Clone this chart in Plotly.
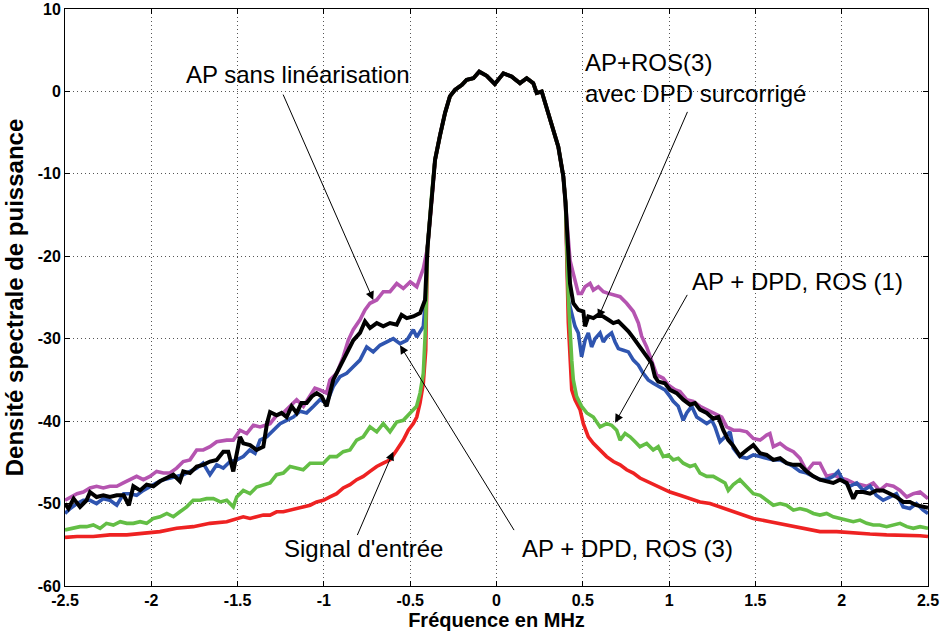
import plotly.graph_objects as go

# ---------------- data ----------------
band_x = [-0.40, -0.375, -0.356, -0.327, -0.298, -0.27, -0.24, -0.20, -0.173, -0.134, -0.10, -0.057, -0.01,
          0.04, 0.088, 0.136, 0.175, 0.213, 0.233, 0.262, 0.29, 0.33, 0.358, 0.387, 0.40]
band_y = [-19.0, -12.4, -8.3, -5.3, -2.6, -0.6, 0.2, 0.8, 1.4, 1.6, 2.4, 1.9, 0.9,
          2.2, 1.8, 1.0, 1.6, 1.0, -0.2, 0.0, -1.85, -4.7, -6.7, -10.3, -13.5]

mag_left_x = [-2.5, -2.48, -2.43, -2.394, -2.355, -2.317, -2.278, -2.24, -2.2, -2.162, -2.124, -2.085, -2.046,
              -2.008, -1.969, -1.93, -1.892, -1.853, -1.815, -1.776, -1.737, -1.699, -1.66, -1.621, -1.563,
              -1.525, -1.486, -1.447, -1.409, -1.37, -1.312, -1.274, -1.235, -1.196, -1.158, -1.119, -1.08,
              -1.052, -1.023, -0.984, -0.965, -0.926, -0.888, -0.859, -0.83, -0.791, -0.762, -0.733, -0.694,
              -0.656, -0.617, -0.578, -0.54, -0.50, -0.462, -0.424]
mag_left_y = [-49.6, -49.4, -48.8, -48.6, -48.1, -47.9, -48.1, -47.9, -47.9, -47.5, -47.1, -46.7, -47.1,
              -46.7, -46.1, -46.3, -46.3, -45.7, -44.9, -44.7, -43.5, -43.5, -43.1, -42.5, -42.3,
              -42.3, -41.1, -41.5, -40.5, -40.7, -40.3, -39.3, -39.0, -38.2, -37.4, -38.2, -37.0,
              -36.0, -36.2, -36.6, -35.0, -34.2, -32.2, -30.2, -28.9, -27.7, -26.5, -25.7, -25.3,
              -24.3, -24.3, -23.3, -23.9, -23.1, -23.7, -21.5]
mag_right_x = [0.426, 0.445, 0.474, 0.493, 0.513, 0.542, 0.561, 0.59, 0.619, 0.648, 0.677, 0.716, 0.754,
               0.793, 0.822, 0.841, 0.87, 0.899, 0.928, 0.966, 0.995, 1.034, 1.063, 1.102, 1.14, 1.179,
               1.218, 1.256, 1.305, 1.334, 1.372, 1.41, 1.45, 1.488, 1.527, 1.565, 1.584, 1.604, 1.643,
               1.681, 1.72, 1.758, 1.797, 1.836, 1.874, 1.893, 1.913, 1.951, 1.99, 2.029, 2.067, 2.106,
               2.145, 2.183, 2.22, 2.26, 2.3, 2.338, 2.377, 2.415, 2.454, 2.5]
mag_right_y = [-20.5, -22.1, -24.5, -24.5, -23.7, -23.3, -24.1, -23.7, -24.3, -24.5, -24.7, -24.9, -25.7,
               -26.7, -28.1, -29.7, -31.0, -32.6, -34.4, -34.8, -35.6, -36.2, -36.4, -37.4, -37.6, -38.2,
               -38.6, -39.0, -39.5, -40.7, -41.1, -41.1, -41.3, -42.1, -42.3, -41.7, -41.5, -43.1, -42.7,
               -43.3, -43.7, -44.5, -46.1, -45.1, -45.1, -45.9, -46.7, -46.5, -46.9, -47.1, -47.5, -47.7,
               -47.9, -47.5, -48.4, -47.7, -47.9, -48.4, -49.2, -48.8, -48.6, -49.4]

blue_left_x = [-2.5, -2.47, -2.43, -2.394, -2.355, -2.317, -2.278, -2.24, -2.2, -2.16, -2.124, -2.085, -2.046,
               -2.008, -1.969, -1.93, -1.892, -1.853, -1.815, -1.776, -1.737, -1.7, -1.66, -1.621, -1.583,
               -1.544, -1.505, -1.467, -1.43, -1.399, -1.37, -1.331, -1.293, -1.254, -1.216, -1.177, -1.138,
               -1.1, -1.06, -1.023, -0.984, -0.946, -0.907, -0.868, -0.83, -0.791, -0.752, -0.714, -0.675,
               -0.636, -0.598, -0.559, -0.52, -0.482, -0.462, -0.424, -0.41]
blue_left_y = [-51.2, -50.6, -50.0, -49.6, -49.6, -50.0, -49.4, -49.6, -50.2, -48.8, -48.8, -49.0, -48.4,
               -47.9, -47.5, -47.1, -46.9, -46.7, -46.5, -46.1, -45.7, -45.1, -46.5, -45.3, -45.7,
               -44.9, -44.7, -44.3, -43.5, -43.9, -42.3, -41.9, -41.1, -40.3, -39.9, -39.5, -38.8,
               -39.0, -38.2, -37.4, -37.8, -35.8, -34.6, -34.2, -33.4, -32.6, -31.0, -31.6, -30.8,
               -30.4, -30.0, -30.6, -30.2, -28.9, -29.8, -28.5, -25.0]
blue_right_x = [0.416, 0.436, 0.455, 0.474, 0.493, 0.513, 0.532, 0.551, 0.571, 0.6, 0.619, 0.638, 0.667,
                0.687, 0.706, 0.735, 0.764, 0.793, 0.822, 0.85, 0.879, 0.908, 0.947, 0.976, 1.005, 1.024,
                1.053, 1.082, 1.102, 1.131, 1.16, 1.189, 1.218, 1.247, 1.266, 1.295, 1.324, 1.353, 1.372,
                1.41, 1.45, 1.488, 1.527, 1.565, 1.604, 1.643, 1.681, 1.72, 1.758, 1.797, 1.836, 1.874,
                1.913, 1.951, 1.98, 2.01, 2.048, 2.087, 2.125, 2.164, 2.2, 2.24, 2.28, 2.317, 2.356,
                2.395, 2.433, 2.472, 2.5]
blue_right_y = [-25.3, -26.9, -28.5, -29.3, -32.2, -30.2, -29.3, -31.0, -30.0, -29.3, -30.4, -29.8, -29.3,
                -30.4, -31.2, -31.4, -31.6, -32.6, -33.2, -34.2, -35.0, -35.4, -35.8, -36.2, -37.0, -37.6,
                -38.2, -39.9, -39.0, -38.2, -39.5, -39.9, -40.3, -39.9, -40.7, -42.5, -41.9, -41.3, -43.3,
                -44.3, -44.5, -44.1, -44.3, -44.5, -44.7, -44.7, -45.1, -45.5, -46.1, -46.3, -46.7, -47.1,
                -47.1, -46.7, -46.1, -47.3, -47.9, -47.5, -48.4, -47.9, -49.0, -49.6, -49.2, -48.8, -50.4,
                -50.6, -50.0, -50.8, -51.2]

black_left_x = [-2.5, -2.48, -2.45, -2.413, -2.375, -2.355, -2.317, -2.278, -2.24, -2.2, -2.16, -2.13, -2.104,
                -2.065, -2.027, -1.988, -1.95, -1.91, -1.872, -1.834, -1.815, -1.776, -1.737, -1.7, -1.66,
                -1.621, -1.583, -1.554, -1.525, -1.486, -1.467, -1.428, -1.39, -1.351, -1.33, -1.312, -1.274,
                -1.245, -1.216, -1.187, -1.158, -1.13, -1.1, -1.07, -1.042, -1.013, -0.984, -0.946, -0.907,
                -0.868, -0.83, -0.791, -0.762, -0.733, -0.694, -0.656, -0.617, -0.578, -0.55, -0.52, -0.482,
                -0.443, -0.414]
black_left_y = [-50.0, -50.6, -49.4, -50.4, -49.6, -48.6, -49.2, -49.0, -49.2, -49.0, -49.0, -50.2, -47.9,
                -48.4, -47.7, -47.9, -47.3, -46.9, -46.5, -47.3, -46.1, -46.3, -45.5, -45.3, -44.9,
                -44.7, -43.7, -43.7, -46.1, -41.9, -42.7, -42.9, -43.5, -43.1, -40.3, -38.9, -39.3,
                -39.0, -39.5, -38.2, -39.0, -37.8, -37.8, -37.0, -36.6, -37.0, -38.2, -35.0, -33.4,
                -31.8, -30.2, -29.3, -27.9, -28.7, -28.1, -28.5, -28.1, -28.3, -27.1, -27.5, -27.3,
                -26.9, -25.3]
black_right_x = [0.412, 0.426, 0.445, 0.474, 0.503, 0.513, 0.532, 0.561, 0.59, 0.619, 0.648, 0.677, 0.706,
                 0.735, 0.764, 0.793, 0.831, 0.87, 0.899, 0.918, 0.937, 0.976, 1.005, 1.044, 1.082, 1.121,
                 1.15, 1.179, 1.218, 1.256, 1.285, 1.314, 1.343, 1.372, 1.41, 1.45, 1.488, 1.527, 1.565,
                 1.604, 1.643, 1.681, 1.72, 1.758, 1.797, 1.836, 1.874, 1.913, 1.951, 1.99, 2.029, 2.067,
                 2.087, 2.125, 2.164, 2.2, 2.24, 2.28, 2.317, 2.356, 2.395, 2.433, 2.472, 2.5]
black_right_y = [-18.0, -23.3, -25.7, -26.5, -26.7, -28.5, -27.3, -27.5, -27.1, -27.3, -27.7, -28.1, -27.9,
                 -28.5, -29.1, -29.9, -31.0, -32.2, -33.0, -34.6, -35.2, -35.4, -36.2, -36.6, -37.4, -38.0,
                 -37.8, -38.6, -39.0, -39.7, -39.5, -41.1, -42.3, -43.0, -44.2, -43.5, -42.9, -43.9, -44.1,
                 -44.7, -44.5, -45.1, -45.3, -45.3, -46.1, -46.7, -47.1, -47.3, -47.5, -47.1, -47.5, -49.4,
                 -48.6, -48.6, -48.8, -48.4, -48.4, -48.8, -49.2, -49.8, -49.8, -50.2, -50.4, -50.5]

green_left_x = [-2.5, -2.45, -2.413, -2.375, -2.336, -2.297, -2.26, -2.22, -2.18, -2.142, -2.104, -2.065, -2.027,
                -1.988, -1.95, -1.91, -1.872, -1.834, -1.795, -1.757, -1.718, -1.679, -1.64, -1.60, -1.563,
                -1.525, -1.505, -1.467, -1.428, -1.39, -1.351, -1.312, -1.274, -1.235, -1.196, -1.158, -1.12,
                -1.08, -1.042, -1.003, -0.965, -0.926, -0.888, -0.849, -0.81, -0.772, -0.733, -0.694, -0.656,
                -0.617, -0.578, -0.54, -0.50, -0.463, -0.443, -0.424, -0.41]
green_left_y = [-53.2, -53.0, -52.8, -52.8, -52.6, -53.0, -52.4, -52.6, -52.2, -52.4, -52.4, -52.2, -52.4,
                -51.8, -51.6, -51.2, -51.6, -51.0, -50.4, -49.6, -49.6, -49.4, -49.4, -49.8, -49.6,
                -50.4, -49.2, -48.4, -48.8, -48.0, -47.7, -47.5, -46.5, -46.3, -45.5, -45.7, -45.9,
                -45.1, -45.1, -45.1, -44.3, -44.3, -43.7, -43.5, -42.3, -41.9, -40.7, -41.3, -40.3,
                -41.3, -40.1, -39.9, -39.0, -38.2, -36.6, -34.2, -28.1]
green_right_x = [0.416, 0.426, 0.436, 0.445, 0.464, 0.493, 0.523, 0.561, 0.6, 0.638, 0.667, 0.696, 0.716,
                 0.745, 0.774, 0.803, 0.831, 0.87, 0.908, 0.937, 0.966, 0.995, 1.024, 1.053, 1.082, 1.121,
                 1.15, 1.179, 1.218, 1.256, 1.295, 1.324, 1.343, 1.372, 1.41, 1.45, 1.488, 1.527, 1.565,
                 1.604, 1.643, 1.681, 1.72, 1.758, 1.797, 1.836, 1.874, 1.913, 1.951, 1.99, 2.029, 2.067,
                 2.106, 2.145, 2.183, 2.22, 2.26, 2.3, 2.338, 2.377, 2.415, 2.454, 2.5]
green_right_y = [-25.0, -29.8, -32.6, -35.0, -37.0, -38.2, -39.0, -39.5, -40.7, -40.3, -40.5, -41.1, -42.3,
                 -41.5, -41.9, -42.5, -43.1, -42.7, -43.5, -43.1, -44.3, -44.1, -44.7, -44.5, -45.1, -45.5,
                 -45.3, -46.3, -46.7, -46.7, -47.1, -47.5, -48.4, -47.7, -47.1, -47.9, -48.8, -49.0, -49.6,
                 -50.2, -50.0, -50.2, -50.8, -50.6, -50.8, -51.2, -51.4, -51.2, -51.6, -51.8, -52.0, -52.2,
                 -52.0, -52.4, -52.6, -52.6, -52.8, -52.6, -52.4, -52.8, -53.0, -52.8, -53.0]

red_left_x = [-2.5, -2.43, -2.336, -2.24, -2.142, -2.046, -1.95, -1.853, -1.757, -1.66, -1.563, -1.467, -1.428,
              -1.39, -1.351, -1.312, -1.274, -1.235, -1.196, -1.158, -1.12, -1.08, -1.042, -1.003, -0.965,
              -0.926, -0.888, -0.849, -0.81, -0.772, -0.733, -0.694, -0.656, -0.617, -0.578, -0.54, -0.511,
              -0.482, -0.462, -0.443, -0.424, -0.41]
red_left_y = [-54.1, -54.0, -54.0, -53.8, -53.8, -53.6, -53.4, -53.0, -52.8, -52.4, -52.2, -51.6, -51.8,
              -51.6, -51.4, -51.4, -51.0, -51.0, -50.8, -50.6, -50.4, -50.2, -49.8, -49.6, -49.2,
              -48.8, -48.1, -47.7, -47.1, -46.7, -46.1, -45.5, -45.1, -44.7, -43.5, -42.3, -41.1,
              -40.3, -39.5, -37.8, -35.4, -31.4]
red_right_x = [0.416, 0.436, 0.455, 0.484, 0.503, 0.532, 0.561, 0.6, 0.638, 0.677, 0.716, 0.754, 0.793,
               0.831, 0.889, 0.947, 1.005, 1.063, 1.121, 1.179, 1.237, 1.295, 1.353, 1.41, 1.488, 1.585,
               1.681, 1.778, 1.874, 1.971, 2.067, 2.164, 2.26, 2.356, 2.454, 2.5]
red_right_y = [-28.0, -36.2, -37.4, -38.6, -40.3, -41.9, -42.7, -43.5, -44.3, -44.9, -45.3, -45.9, -46.3,
               -46.9, -47.5, -48.1, -48.6, -49.0, -49.4, -49.8, -50.0, -50.4, -50.8, -51.2, -51.8, -52.2,
               -52.6, -53.0, -53.4, -53.4, -53.6, -53.7, -53.8, -53.8, -53.9, -54.0]

x_tick_vals = [-2.5, -2, -1.5, -1, -0.5, 0, 0.5, 1, 1.5, 2, 2.5]
x_tick_text = ["-2.5", "-2", "-1.5", "-1", "-0.5", "0", "0.5", "1", "1.5", "2", "2.5"]
y_tick_vals = [-60, -50, -40, -30, -20, -10, 0, 10]
y_tick_text = ["-60", "-50", "-40", "-30", "-20", "-10", "0", "10"]

# ---------------- figure ----------------
FONT = "Liberation Sans, Arial, Helvetica, sans-serif"

series = [
    ("AP sans linéarisation", mag_left_x, mag_left_y, mag_right_x, mag_right_y, "#B554B0", 3.6),
    ("AP + DPD, ROS (3)", blue_left_x, blue_left_y, blue_right_x, blue_right_y, "#2F55B0", 3.6),
    ("Signal d'entrée", red_left_x, red_left_y, red_right_x, red_right_y, "#EE2222", 3.6),
    ("AP + DPD, ROS (1)", green_left_x, green_left_y, green_right_x, green_right_y, "#63BE45", 3.6),
    ("AP+ROS(3) avec DPD surcorrigé", black_left_x, black_left_y, black_right_x, black_right_y, "#000000", 4.0),
]

fig = go.Figure()
for name, lx, ly, rx, ry, col, w in series:
    fig.add_trace(go.Scatter(
        x=lx + band_x + rx, y=ly + band_y + ry, mode="lines", name=name,
        line=dict(color=col, width=w), showlegend=False, hoverinfo="skip"))

axis_common = dict(
    showline=True, linecolor="black", linewidth=1, mirror="ticks",
    ticks="inside", ticklen=5, tickcolor="black",
    showgrid=True, gridcolor="#555555", gridwidth=1, griddash="1px,3px",
    zeroline=False, automargin=False, ticklabeloverflow="allow",
    tickfont=dict(family=FONT, size=16, color="black", weight="bold"),
)

fig.update_xaxes(range=[-2.5, 2.5], tickvals=x_tick_vals, ticktext=x_tick_text,
                 title=dict(text="Fréquence en MHz", standoff=4,
                            font=dict(family=FONT, size=20, color="black", weight="bold")),
                 **axis_common)
fig.update_yaxes(range=[-60, 10], tickvals=y_tick_vals, ticktext=y_tick_text,
                 title=dict(text="Densité spectrale de puissance", standoff=7,
                            font=dict(family=FONT, size=24, color="black", weight="bold")),
                 **axis_common)

# arrows (tail -> tip in data coordinates)
arrows = [
    (-1.24, -0.2, -0.714, -25.3),
    (1.11, -2.3, 0.588, -27.5),
    (1.11, -24.5, 0.687, -40.2),
    (0.107, -53.4, -0.559, -30.8),
    (-0.81, -54.0, -0.598, -43.7),
]
for tx, ty, hx, hy in arrows:
    fig.add_annotation(x=hx, y=hy, ax=tx, ay=ty, xref="x", yref="y", axref="x", ayref="y",
                       text="", showarrow=True, arrowhead=2, arrowsize=1.7, arrowwidth=1,
                       arrowcolor="black")

labels = [
    ("AP sans linéarisation", -1.15, 2.0, "center"),
    ("AP+ROS(3)<br>avec DPD surcorrigé", 0.50, 1.6, "left"),
    ("AP + DPD, ROS (1)", 1.121, -23.0, "left"),
    ("AP + DPD, ROS (3)", 0.136, -55.4, "left"),
    ("Signal d'entrée", -1.243, -55.4, "left"),
]
for txt, x, y, anchor in labels:
    fig.add_annotation(x=x, y=y, xref="x", yref="y", text=txt, showarrow=False,
                       xanchor=anchor, yanchor="middle", align="left",
                       font=dict(family=FONT, size=24, color="black"))

fig.update_layout(
    width=940, height=639,
    margin=dict(l=65, r=12, t=9, b=53),
    paper_bgcolor="white", plot_bgcolor="white",
    font=dict(family=FONT, color="black"),
)

# remove the default 8px page margin so the figure sits at the window's corner
fig.write_html("out.html", config={"displayModeBar": False},
               post_script="document.body.style.margin='0';")
